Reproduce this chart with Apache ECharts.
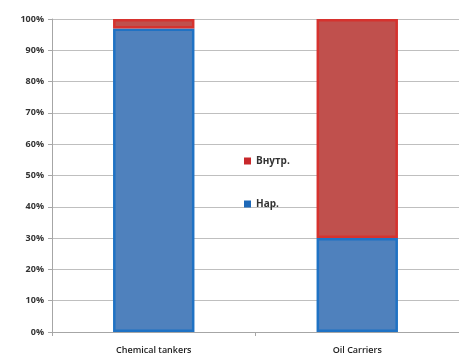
<!DOCTYPE html>
<html><head><meta charset="utf-8">
<script src="https://cdn.jsdelivr.net/npm/echarts@6/dist/echarts.min.js"></script>
<style>html,body{margin:0;padding:0;background:#fff}#c{width:459px;height:357px}</style>
</head><body><div id="c"></div>
<script>
const categories = ['Chemical tankers', 'Oil Carriers'];
const narValues = [97, 30];
const vnutrValues = [3, 70];
const yTicks = ['0%','10%','20%','30%','40%','50%','60%','70%','80%','90%','100%'];

const chart = echarts.init(document.getElementById('c'));
chart.setOption({
  animation: false,
  backgroundColor: '#fff',
  grid: { left: 52, right: 0, top: 19, bottom: 25 },
  legend: {
    orient: 'vertical', left: 239, top: 151,
    itemWidth: 7, itemHeight: 7, itemGap: 33,
    icon: 'rect',
    itemStyle: { borderWidth: 0 },
    data: [
      { name: 'Внутр.', itemStyle: { color: '#c8282b', borderWidth: 0 } },
      { name: 'Нар.', itemStyle: { color: '#1d68b8', borderWidth: 0 } }
    ],
    textStyle: { fontFamily: 'Open Sans', fontSize: 10, fontWeight: 'bold', color: '#333' }
  },
  xAxis: {
    type: 'category', data: categories,
    axisLine: { lineStyle: { color: '#a6a6a6' } },
    axisTick: { show: true, alignWithLabel: false, length: 4, lineStyle: { color: '#a6a6a6' } },
    axisLabel: { fontFamily: 'Open Sans', fontSize: 9, fontWeight: 600, color: '#222', margin: 14 }
  },
  yAxis: {
    type: 'value', min: 0, max: 100, interval: 10,
    axisLine: { show: true, lineStyle: { color: '#a6a6a6' } },
    axisTick: { show: true, length: 4, lineStyle: { color: '#a6a6a6' } },
    splitLine: { lineStyle: { color: '#bfbfbf' } },
    axisLabel: { fontFamily: 'Open Sans', fontSize: 9, fontWeight: 'bold', color: '#333', margin: 8,
      formatter: v => yTicks[Math.round(v / 10)] }
  },
  series: [
    { name: 'Нар.', type: 'bar', stack: 's', data: narValues, barWidth: '40%',
      itemStyle: { color: '#4f81bd', borderColor: '#1f72c4', borderWidth: 2.5 } },
    { name: 'Внутр.', type: 'bar', stack: 's', data: vnutrValues, barWidth: '40%',
      itemStyle: { color: '#c0504d', borderColor: '#d6322e', borderWidth: 2.5 } }
  ]
});
</script></body></html>
